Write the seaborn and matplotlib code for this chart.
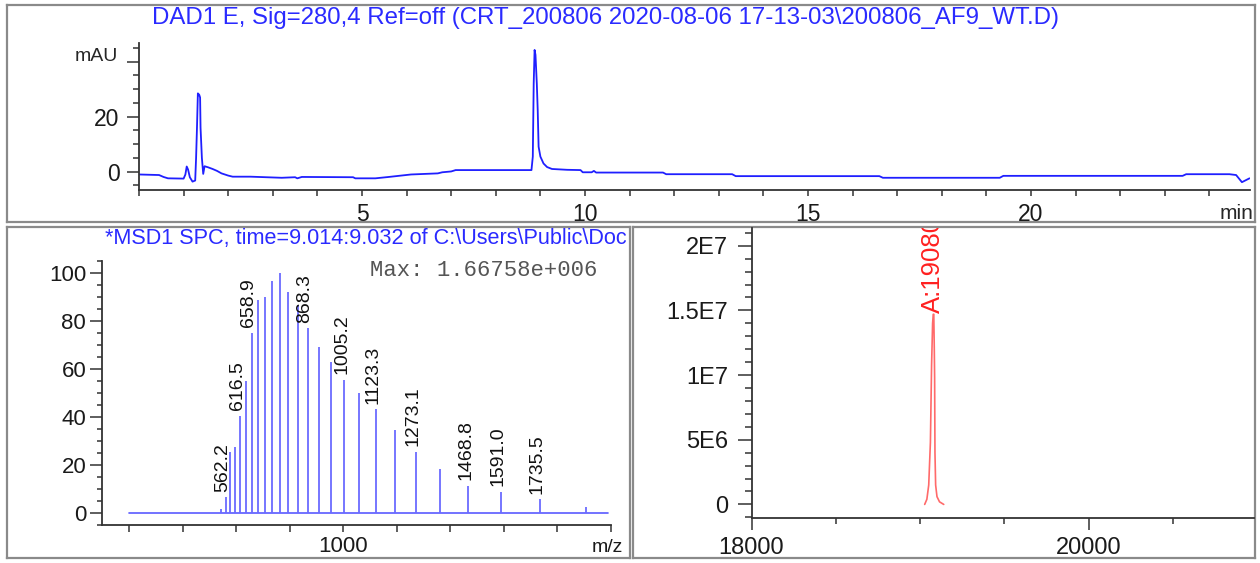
import matplotlib
matplotlib.use("Agg")
import matplotlib.pyplot as plt
from matplotlib.ticker import MultipleLocator, FixedLocator, FixedFormatter
import seaborn as sns
import pandas as pd

# DAD1 E trace, 280 nm (min, mAU)
rt_min = [0.0, 0.45, 0.55, 0.65, 1.0, 1.04, 1.07, 1.1, 1.14, 1.2, 1.26, 1.28, 1.30, 1.32,
          1.35, 1.37, 1.38, 1.41, 1.44, 1.47, 1.55, 1.65, 1.75, 1.85, 2.0, 2.1, 2.5, 3.2,
          3.5, 3.55, 3.65, 4.8, 4.85, 5.3, 5.6, 6.1, 6.7, 6.8, 7.0, 7.1, 8.8, 8.83, 8.85,
          8.87, 8.89, 8.92, 8.94, 8.96, 9.0, 9.07, 9.15, 9.26, 9.6, 9.9, 9.95, 10.15, 10.2,
          10.25, 11.75, 11.82, 13.3, 13.38, 16.6, 16.68, 19.3, 19.38, 23.4, 23.48, 24.45,
          24.6, 24.73, 24.9]
mau = [-1.0, -1.2, -1.9, -2.4, -2.5, -1.0, 1.9, 0.8, -2.0, -3.6, -3.2, 5.0, 16.0, 28.5,
       28.0, 27.0, 16.0, 5.0, -0.8, 2.0, 1.6, 1.0, 0.3, -0.6, -1.4, -1.8, -1.8, -2.2,
       -2.0, -2.4, -1.9, -2.0, -2.4, -2.4, -1.9, -1.0, -0.6, -0.2, 0.1, 0.6, 0.6, 5.5, 32.0,
       44.3, 42.5, 32.0, 22.4, 9.1, 5.5, 3.0, 1.7, 1.0, 0.7, 0.6, -0.2, -0.2, 0.3,
       -0.3, -0.3, -0.9, -0.9, -1.6, -1.6, -2.2, -2.2, -1.5, -1.5, -0.9, -0.9,
       -1.2, -3.8, -2.4]

# MSD1 spectrum, 9.014-9.032 min (m/z, % of max)
mz = [544.0, 562.2, 579.2, 597.3, 616.5, 637.0, 658.9, 682.4, 707.7, 734.8, 764.2, 796.0,
      830.6, 868.3, 909.6, 955.0, 1005.2, 1061.0, 1123.3, 1193.5, 1273.1, 1363.9, 1468.8,
      1591.0, 1735.5, 1909.0]
rel_int = [1.5, 6.5, 25.5, 27.6, 40.6, 55.0, 75.0, 88.6, 90.0, 96.5, 100.0, 92.0, 86.7,
           77.0, 69.3, 63.0, 55.4, 49.9, 43.3, 34.6, 25.6, 18.2, 11.3, 8.9, 5.7, 2.6]
labelled_mz = [562.2, 616.5, 658.9, 868.3, 1005.2, 1123.3, 1273.1, 1468.8, 1591.0, 1735.5]
baseline_mz = [200, 1990]

# deconvoluted mass
mass_da = [19027, 19040, 19051, 19061, 19068, 19074, 19078, 19081, 19084, 19086, 19088,
           19092, 19100, 19115, 19140]
intensity = [0, 0.4e6, 1.5e6, 4.8e6, 1.08e7, 1.4e7, 1.47e7, 1.47e7, 1.2e7, 9.8e6, 4.0e6,
             1.5e6, 0.6e6, 0.2e6, 0]
mass_label = "A:19080"

sns.set_style("ticks")
plt.rcParams["font.family"] = ["Liberation Sans", "DejaVu Sans"]

W, H = 1260, 563
fig = plt.figure(figsize=(W / 100, H / 100), dpi=100)


def px_rect(l, t, r, b):
    return [l / W, 1 - b / H, (r - l) / W, (b - t) / H]


def frame(l, t, r, b):
    a = fig.add_axes(px_rect(l, t, r, b), zorder=0)
    a.set_xticks([])
    a.set_yticks([])
    a.set_xlim(l, r)
    a.set_ylim(b, t)
    for s in a.spines.values():
        s.set_color("#8a8a8a")
        s.set_linewidth(1.6)
    return a


blue = "#2a2aff"
fr1 = frame(7, 5, 1255, 222)
fr2 = frame(7, 227, 630, 558)
fr3 = frame(633, 227, 1255, 558)

# frame axes use pixel data coordinates
fr1.text(606, 18,
         "DAD1 E, Sig=280,4 Ref=off (CRT_200806 2020-08-06 17-13-03\\200806_AF9_WT.D)",
         ha="center", va="center", color=blue, fontsize=17.3, clip_on=True)
fr2.text(105, 239, "*MSD1 SPC, time=9.014:9.032 of C:\\Users\\Public\\Doc",
         ha="left", va="center", color=blue, fontsize=15.6, clip_on=True)
fr2.text(370, 271, "Max: 1.66758e+006", family="Liberation Mono", fontsize=16,
         color="#555555", va="center", ha="left")
fr2.text(592, 548, "m/z", fontsize=14, color="#1a1a1a", va="center", ha="left")


def style(ax):
    ax.set_facecolor("none")
    sns.despine(ax=ax)
    for s in ("left", "bottom"):
        ax.spines[s].set_color("#333333")
        ax.spines[s].set_linewidth(1.3)
    ax.tick_params(which="both", color="#333333", width=1.1, labelcolor="#1a1a1a")
    ax.set_xlabel("")
    ax.set_ylabel("")


# --- chromatogram ---
ax1 = fig.add_axes(px_rect(139, 42.5, 1249.5, 189.6), zorder=2)
uv = pd.DataFrame({"t": rt_min, "mau": mau})
sns.lineplot(data=uv, x="t", y="mau", ax=ax1, color="#1f1fff", lw=1.3, estimator=None, sort=False)
ax1.set_xlim(0, 24.9)
ax1.set_ylim(-6.5, 47)
style(ax1)
ax1.xaxis.set_major_locator(FixedLocator([5, 10, 15, 20]))
ax1.xaxis.set_minor_locator(MultipleLocator(1))
ax1.yaxis.set_major_locator(FixedLocator([0, 20, 40]))
ax1.yaxis.set_major_formatter(FixedFormatter(["0", "20", ""]))
ax1.yaxis.set_minor_locator(MultipleLocator(5))
ax1.tick_params(axis="y", which="major", length=9, pad=5, labelsize=16.5)
ax1.tick_params(axis="y", which="minor", length=4.5)
ax1.tick_params(axis="x", which="both", length=4.5, pad=5, labelsize=16.5)
ax1.annotate("mAU", xy=(0, 40), xycoords=("axes fraction", "data"), xytext=(-15, 4),
             textcoords="offset points", ha="right", va="center", fontsize=14)
ax1.annotate("min", xy=(1, 0), xycoords="axes fraction", xytext=(3, -17),
             textcoords="offset points", ha="right", va="center", fontsize=15)

# --- mass spectrum ---
ax2 = fig.add_axes(px_rect(102.25, 261, 610.5, 525), zorder=2)
base = pd.DataFrame({"mz": baseline_mz, "i": [0, 0]})
sns.lineplot(data=base, x="mz", y="i", ax=ax2, color="#5a5aff", lw=1.2, estimator=None)
ax2.vlines(mz, 0, rel_int, color="#6b6bff", lw=1.3)
for m in labelled_mz:
    k = min(range(len(mz)), key=lambda j: abs(mz[j] - m))
    ax2.annotate(f"{m:.1f}", xy=(mz[k], rel_int[k]), xytext=(-2, 4), textcoords="offset points",
                 rotation=90, ha="center", va="bottom", fontsize=14, color="#111111")
ax2.set_xlim(100, 2000)
ax2.set_ylim(-5, 105)
style(ax2)
ax2.xaxis.set_major_locator(FixedLocator(list(range(200, 2001, 200))))
ax2.xaxis.set_major_formatter(FixedFormatter(["", "", "", "", "1000", "", "", "", "", ""]))
ax2.yaxis.set_major_locator(MultipleLocator(20))
ax2.yaxis.set_minor_locator(MultipleLocator(5))
ax2.tick_params(axis="y", which="major", length=8.6, pad=3, labelsize=16)
ax2.tick_params(axis="y", which="minor", length=3.6)
ax2.tick_params(axis="x", which="major", length=5, pad=3, labelsize=16)

# --- deconvoluted mass ---
ax3 = fig.add_axes(px_rect(751.5, 227.6, 1254, 518), zorder=2)
dec = pd.DataFrame({"mass": mass_da, "int": intensity})
sns.lineplot(data=dec, x="mass", y="int", ax=ax3, color="#ff6a6a", lw=1.2, estimator=None, sort=False)
top = max(intensity)
ax3.annotate(mass_label, xy=(mass_da[intensity.index(top)] - 1, top), xytext=(0, 1),
             textcoords="offset points", rotation=90, ha="center", va="bottom",
             fontsize=18.5, color="#ff2020", annotation_clip=False, clip_on=True)
ax3.set_xlim(18000, 20980)
ax3.set_ylim(-1.05e6, 2.14e7)
style(ax3)
ax3.xaxis.set_major_locator(FixedLocator([18000, 20000]))
ax3.xaxis.set_minor_locator(MultipleLocator(500))
ax3.yaxis.set_major_locator(FixedLocator([0, 5e6, 1e7, 1.5e7, 2e7]))
ax3.yaxis.set_major_formatter(FixedFormatter(["0", "5E6", "1E7", "1.5E7", "2E7"]))
ax3.yaxis.set_minor_locator(MultipleLocator(1e6))
ax3.tick_params(axis="y", which="major", length=10, pad=7, labelsize=17)
ax3.tick_params(axis="y", which="minor", length=5)
ax3.tick_params(axis="x", which="major", length=8.6, pad=5, labelsize=17)
ax3.tick_params(axis="x", which="minor", length=4.3)

fig.savefig("out.png", dpi=100, facecolor="white")
